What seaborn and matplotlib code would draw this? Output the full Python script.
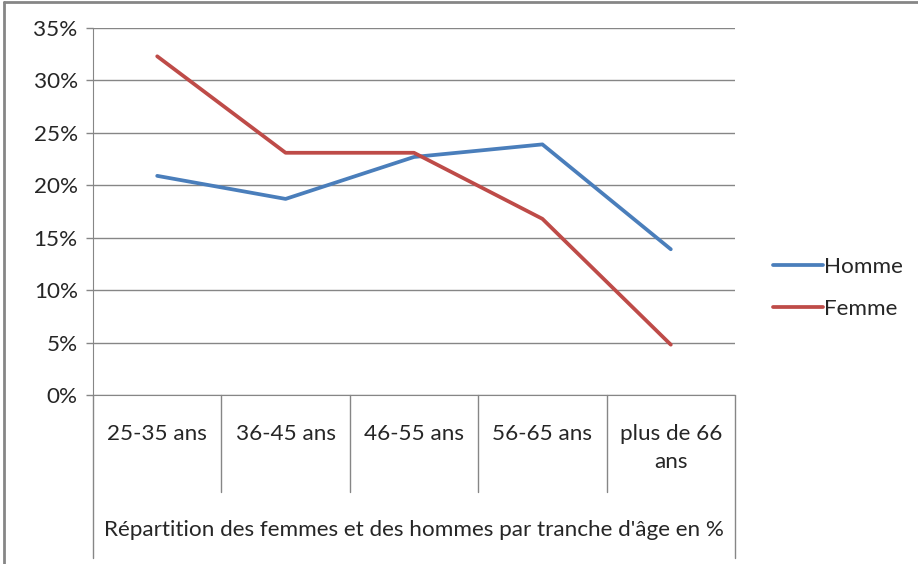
# Import dependencies.
import pandas as pd
import seaborn as sns
import matplotlib.pyplot as plt
from matplotlib.lines import Line2D
from matplotlib.ticker import PercentFormatter

# Data (percent).
categories = ["25-35 ans", "36-45 ans", "46-55 ans", "56-65 ans", "plus de 66\nans"]
homme = [20.9, 18.7, 22.7, 23.9, 13.9]
femme = [32.3, 23.1, 23.1, 16.8, 4.8]
series = ["Homme", "Femme"]
colors = ["#4A7EBB", "#BE4B48"]
x_title = "Répartition des femmes et des hommes par tranche d'âge en %"

df = pd.DataFrame({
    "pos": list(range(len(categories))) * 2,
    "value": homme + femme,
    "serie": [series[0]] * len(categories) + [series[1]] * len(categories),
})

sns.set_style("white")
plt.rcParams["font.family"] = ["Lato", "DejaVu Sans"]
grey = "#868686"
txt = "#262626"
fs = 16.2

fig = plt.figure(figsize=(9.18, 5.64), dpi=100)
ax = fig.add_axes([93 / 918, 1 - 395 / 564, (735 - 93) / 918, (395 - 28) / 564])

sns.lineplot(data=df, x="pos", y="value", hue="serie", palette=colors,
             linewidth=2.7, ax=ax, legend=False)

ax.set_xlim(-0.5, len(categories) - 0.5)
ax.set_ylim(0, 35)
ax.set_yticks(range(0, 36, 5))
ax.yaxis.set_major_formatter(PercentFormatter(decimals=0))
ax.grid(axis="y", color=grey, linewidth=1)
ax.set_axisbelow(True)

for side in ["top", "right"]:
    ax.spines[side].set_visible(False)
ax.spines["left"].set_color(grey)
ax.spines["bottom"].set_color(grey)

ax.tick_params(axis="y", length=5, width=1, color=grey, labelsize=fs,
               labelcolor=txt, pad=6, left=True)
ax.set_xticks(range(len(categories)))
ax.set_xticklabels(categories, fontsize=fs, color=txt, linespacing=1.5)
ax.tick_params(axis="x", length=0, pad=21)
ax.set_xlabel("")
ax.set_ylabel("")

# Category separators under the axis.
h = 395 - 28
for i in range(len(categories) + 1):
    xb = i - 0.5
    depth = -(558 - 395) / h if i in (0, len(categories)) else -(492 - 395) / h
    ax.add_line(Line2D([xb, xb], [0, depth], transform=ax.get_xaxis_transform(),
                       color=grey, linewidth=1, clip_on=False))

ax.text(0.5, -(530 - 395) / h, x_title, transform=ax.transAxes,
        ha="center", va="center", fontsize=fs, color=txt)

# Legend.
handles = [Line2D([0], [0], color=c, linewidth=2.7) for c in colors]
fig.legend(handles, series, loc="center left", bbox_to_anchor=(753 / 918, 1 - 288 / 564),
           frameon=False, fontsize=fs, handlelength=2.2, handletextpad=0.05,
           labelspacing=1.0, labelcolor=txt)

# Outer frame (top and left edges visible).
fig.add_artist(Line2D([4 / 918, 4 / 918], [0, 1 - 2 / 564], color=grey, linewidth=2))
fig.add_artist(Line2D([4 / 918, 1], [1 - 2 / 564, 1 - 2 / 564], color=grey, linewidth=2))

fig.savefig("out.png", dpi=100)
